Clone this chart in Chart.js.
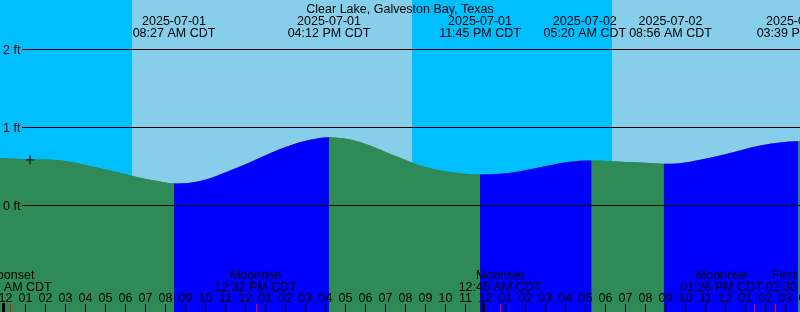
<!DOCTYPE html>
<html>
<head>
<meta charset="utf-8">
<script src="https://cdn.jsdelivr.net/npm/chart.js@4.4.1/dist/chart.umd.min.js"></script>
<style>
  html, body { margin: 0; padding: 0; background: #fff; }
  canvas { display: block; }
</style>
</head>
<body>
<canvas id="chart" width="800" height="312"></canvas>
<script>
// hours since 2025-07-01 00:00 CDT
var title = 'Clear Lake, Galveston Bay, Texas';

// tide curve (hours, feet)
var curveHours = [-1, -0.25, 1.25, 2.75, 3.75, 4.75, 5.75, 6.75, 7.75, 8.45,
  9.25, 10.25, 11.25, 12.25, 13.25, 14.25, 15.25, 16.2,
  17.25, 18.25, 19.25, 19.75, 20.75, 21.75, 22.75, 23.75,
  24.75, 25.75, 26.75, 27.75, 28.75, 29.333,
  30.35, 31.75, 32.933,
  33.75, 34.75, 35.75, 36.75, 37.75, 38.75, 39.65, 40.5];
var curveFeet = [0.61, 0.606, 0.594, 0.581, 0.535, 0.478, 0.419, 0.355, 0.308, 0.282,
  0.291, 0.350, 0.449, 0.555, 0.671, 0.769, 0.842, 0.876,
  0.846, 0.769, 0.663, 0.612, 0.513, 0.449, 0.414, 0.397,
  0.406, 0.440, 0.491, 0.542, 0.573, 0.577,
  0.568, 0.551, 0.535,
  0.542, 0.586, 0.641, 0.705, 0.769, 0.808, 0.824, 0.81];

// high / low tide events
var tideHours = [8.45, 16.2, 23.75, 29.333, 32.933, 39.65];
var tideDates = ['2025-07-01', '2025-07-01', '2025-07-01', '2025-07-02', '2025-07-02', '2025-07-02'];
var tideTimes = ['08:27 AM CDT', '04:12 PM CDT', '11:45 PM CDT', '05:20 AM CDT', '08:56 AM CDT', '03:39 PM CDT'];

// sun: night before first sunrise
var sunHours = [6.35, 20.35, 30.35];

// moon events
var moonHours = [0.27, 12.53, 24.75, 37.43, 38.5];
var moonNames = ['Moonset', 'Moonrise', 'Moonset', 'Moonrise', 'First Quarter'];
var moonTimes = ['12:16 AM CDT', '12:32 PM CDT', '12:45 AM CDT', '01:26 PM CDT', '02:30 PM CDT'];

// current time marker
var markHour = [1.25];
var markFeet = [0.585];

// axes
var yTicks = [0, 1, 2];
var yLabels = ['0 ft', '1 ft', '2 ft'];
var hourLabels = ['12', '01', '02', '03', '04', '05', '06', '07', '08', '09', '10', '11',
  '12', '01', '02', '03', '04', '05', '06', '07', '08', '09', '10', '11',
  '12', '01', '02', '03', '04', '05', '06', '07', '08', '09', '10', '11',
  '12', '01', '02', '03', '04'];

var NIGHT = '#00BFFF', DAY = '#87CEEB', FLOOD = '#0000FF', EBB = '#2E8B57';
var FONT = '12.5px "Liberation Sans", Arial, sans-serif';

// push overlapping labels apart, half each way
function spread(items, gap) {
  for (var i = 1; i < items.length; i++) {
    var a = items[i - 1], b = items[i];
    var over = (a.c + a.w / 2 + gap) - (b.c - b.w / 2);
    if (over > 0) {
      a.c -= over / 2;
      b.c += over / 2;
    }
  }
  return items;
}

var backdrop = {
  id: 'backdrop',
  beforeDatasetsDraw: function(chart) {
    var ctx = chart.ctx, x = chart.scales.x, area = chart.chartArea;
    var edges = [area.left];
    sunHours.forEach(function(h) { edges.push(x.getPixelForValue(h)); });
    edges.push(area.right);
    for (var i = 0; i < edges.length - 1; i++) {
      ctx.fillStyle = (i % 2 === 0) ? NIGHT : DAY;
      ctx.fillRect(Math.round(edges[i]), area.top, Math.round(edges[i + 1]) - Math.round(edges[i]), area.bottom - area.top);
    }
  }
};

var overlay = {
  id: 'overlay',
  afterDatasetsDraw: function(chart) {
    var ctx = chart.ctx, x = chart.scales.x, y = chart.scales.y;
    var W = chart.width;
    ctx.save();
    ctx.font = FONT;
    ctx.fillStyle = '#000';
    ctx.strokeStyle = '#000';
    ctx.lineWidth = 1;

    // height lines
    yTicks.forEach(function(v, i) {
      var py = Math.round(y.getPixelForValue(v)) - 0.5;
      ctx.beginPath();
      ctx.moveTo(22, py);
      ctx.lineTo(W, py);
      ctx.stroke();
      ctx.textAlign = 'left';
      ctx.textBaseline = 'alphabetic';
      ctx.fillText(yLabels[i], 3, py + 4.5);
    });

    // hour ticks
    hourLabels.forEach(function(lab, h) {
      var px = Math.round(x.getPixelForValue(h));
      if (h % 24 === 0) {
        ctx.fillRect(px - 3, 303, 3, 9);
      } else {
        ctx.fillRect(px, 304, 1, 8);
      }
      ctx.textAlign = 'center';
      ctx.fillText(lab, px + 0.5, 301.5);
    });

    // moon ticks
    ctx.fillStyle = '#FF0000';
    moonHours.forEach(function(h) {
      ctx.fillRect(Math.round(x.getPixelForValue(h)), 304, 1, 8);
    });
    ctx.fillStyle = '#000';

    // title
    ctx.textAlign = 'center';
    ctx.fillText(title, W / 2, 12.5);

    // tide labels
    var tl = spread(tideHours.map(function(h, i) {
      return { c: x.getPixelForValue(h), w: Math.max(ctx.measureText(tideDates[i]).width, ctx.measureText(tideTimes[i]).width) };
    }), 3);
    tl.forEach(function(it, i) {
      ctx.fillText(tideDates[i], it.c, 24.5);
      ctx.fillText(tideTimes[i], it.c, 36.5);
    });

    // moon labels
    var ml = spread(moonHours.map(function(h, i) {
      return { c: x.getPixelForValue(h), w: Math.max(ctx.measureText(moonNames[i]).width, ctx.measureText(moonTimes[i]).width) };
    }), 3);
    ml.forEach(function(it, i) {
      ctx.fillText(moonNames[i], it.c, 278.5);
      ctx.fillText(moonTimes[i], it.c, 290.5);
    });
    ctx.restore();
  }
};

var curvePoints = curveHours.map(function(h, i) { return { x: h, y: curveFeet[i] }; });

new Chart(document.getElementById('chart').getContext('2d'), {
  type: 'line',
  data: {
    datasets: [{
      label: 'Now',
      order: 0,
      data: markHour.map(function(h, i) { return { x: h, y: markFeet[i] }; }),
      showLine: false,
      borderColor: '#000',
      backgroundColor: '#000',
      pointStyle: 'cross',
      pointRadius: 4.5,
      pointBorderColor: '#000',
      pointBorderWidth: 1,
      fill: false
    }, {
      label: 'Tide',
      order: 1,
      data: curvePoints,
      borderWidth: 0,
      borderColor: 'rgba(0,0,0,0)',
      backgroundColor: EBB,
      pointRadius: 0,
      fill: 'start',
      cubicInterpolationMode: 'monotone',
      segment: {
        backgroundColor: function(c) { return c.p1.parsed.y > c.p0.parsed.y ? FLOOD : EBB; }
      }
    }, {
      // plain underlay so the colour joins leave no seams
      label: 'Tide base',
      order: 2,
      data: curvePoints,
      borderWidth: 0,
      borderColor: 'rgba(0,0,0,0)',
      backgroundColor: EBB,
      pointRadius: 0,
      fill: 'start',
      cubicInterpolationMode: 'monotone'
    }]
  },
  options: {
    responsive: false,
    animation: false,
    devicePixelRatio: 1,
    layout: { padding: 0, autoPadding: false },
    plugins: { colors: { enabled: false }, legend: { display: false }, tooltip: { enabled: false }, title: { display: false } },
    scales: {
      x: { type: 'linear', display: false, min: -0.25, max: 39.75 },
      y: { type: 'linear', display: false, min: -106.5 / 78, max: 205.5 / 78 }
    }
  },
  plugins: [backdrop, overlay]
});
</script>
</body>
</html>
